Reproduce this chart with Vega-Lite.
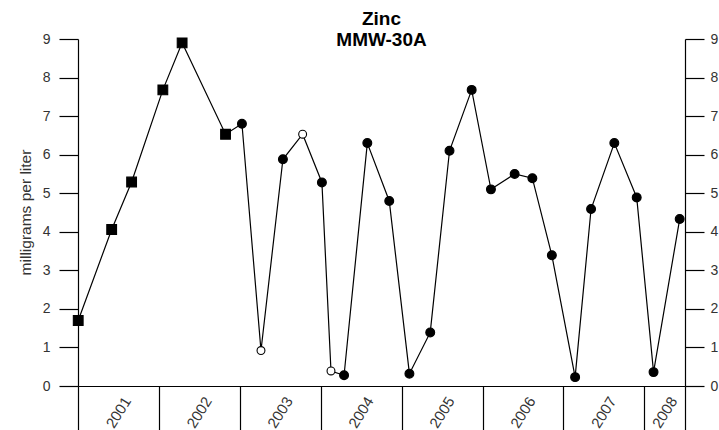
{
  "$schema": "https://vega.github.io/schema/vega-lite/v6.json",
  "width": 607,
  "height": 347,
  "autosize": {"type": "none"},
  "padding": {"left": 78, "top": 39, "right": 34, "bottom": 44},
  "background": "white",
  "config": {
    "view": {"stroke": null},
    "font": "Liberation Sans",
    "axis": {"grid": false, "domainColor": "black", "tickColor": "black", "labelColor": "#333333", "labelFont": "Liberation Sans", "titleFont": "Liberation Sans"}
  },
  "title": {
    "text": ["Zinc", "MMW-30A"],
    "font": "Liberation Sans",
    "fontSize": 19,
    "fontWeight": "bold",
    "color": "black",
    "anchor": "middle",
    "baseline": "bottom",
    "lineHeight": 21,
    "offset": -37
  },
  "data": {
    "values": [
      {"date": "2001-01-02", "zinc": 1.7, "type": "square"},
      {"date": "2001-06-02", "zinc": 4.06, "type": "square"},
      {"date": "2001-08-31", "zinc": 5.29, "type": "square"},
      {"date": "2002-01-19", "zinc": 7.68, "type": "square"},
      {"date": "2002-04-16", "zinc": 8.9, "type": "square"},
      {"date": "2002-10-29", "zinc": 6.53, "type": "square"},
      {"date": "2003-01-11", "zinc": 6.8, "type": "filled"},
      {"date": "2003-04-07", "zinc": 0.92, "type": "open"},
      {"date": "2003-07-15", "zinc": 5.88, "type": "filled"},
      {"date": "2003-10-12", "zinc": 6.53, "type": "open"},
      {"date": "2004-01-07", "zinc": 5.28, "type": "filled"},
      {"date": "2004-02-17", "zinc": 0.39, "type": "open"},
      {"date": "2004-04-16", "zinc": 0.28, "type": "filled"},
      {"date": "2004-07-30", "zinc": 6.3, "type": "filled"},
      {"date": "2004-11-06", "zinc": 4.8, "type": "filled"},
      {"date": "2005-02-05", "zinc": 0.32, "type": "filled"},
      {"date": "2005-05-10", "zinc": 1.39, "type": "filled"},
      {"date": "2005-08-05", "zinc": 6.1, "type": "filled"},
      {"date": "2005-11-13", "zinc": 7.68, "type": "filled"},
      {"date": "2006-02-08", "zinc": 5.1, "type": "filled"},
      {"date": "2006-05-26", "zinc": 5.5, "type": "filled"},
      {"date": "2006-08-14", "zinc": 5.39, "type": "filled"},
      {"date": "2006-11-10", "zinc": 3.39, "type": "filled"},
      {"date": "2007-02-23", "zinc": 0.23, "type": "filled"},
      {"date": "2007-05-06", "zinc": 4.59, "type": "filled"},
      {"date": "2007-08-19", "zinc": 6.3, "type": "filled"},
      {"date": "2007-11-28", "zinc": 4.89, "type": "filled"},
      {"date": "2008-02-12", "zinc": 0.36, "type": "filled"},
      {"date": "2008-06-09", "zinc": 4.33, "type": "filled"}
    ]
  },
  "encoding": {
    "x": {
      "field": "date",
      "type": "temporal",
      "scale": {
        "type": "utc",
        "nice": false,
        "domain": [
          {"year": 2001, "month": 1, "date": 1, "utc": true},
          {"year": 2008, "month": 7, "date": 3, "utc": true}
        ]
      },
      "axis": {
        "title": null,
        "values": [
          {"year": 2001, "month": 1, "date": 1, "utc": true},
          {"year": 2002, "month": 1, "date": 1, "utc": true},
          {"year": 2003, "month": 1, "date": 1, "utc": true},
          {"year": 2004, "month": 1, "date": 1, "utc": true},
          {"year": 2005, "month": 1, "date": 1, "utc": true},
          {"year": 2006, "month": 1, "date": 1, "utc": true},
          {"year": 2007, "month": 1, "date": 1, "utc": true},
          {"year": 2008, "month": 1, "date": 1, "utc": true},
          {"year": 2008, "month": 7, "date": 3, "utc": true}
        ],
        "labelExpr": "utcmonth(datum.value) > 0 ? '' : utcFormat(datum.value, '%Y')",
        "tickSize": 50,
        "tickWidth": 1.2,
        "domainWidth": 1.2,
        "labelPadding": -24,
        "labelAngle": -58,
        "labelAlign": "center",
        "labelBaseline": "middle",
        "labelFontSize": 15,
        "labelFlush": false,
        "labelOverlap": false,
        "labelBound": false,
        "labelOffset": {"condition": {"test": "utcyear(datum.value) == 2008", "value": 20}, "value": 40}
      }
    },
    "y": {
      "field": "zinc",
      "type": "quantitative",
      "scale": {"domain": [0, 9], "nice": false},
      "axis": {
        "orient": "left",
        "values": [0, 1, 2, 3, 4, 5, 6, 7, 8, 9],
        "title": "milligrams per liter",
        "titleFontSize": 15.5,
        "titleFontWeight": "normal",
        "titleColor": "#333333",
        "titleX": -53,
        "titleY": 173,
        "titleAlign": "center",
        "titleBaseline": "middle",
        "tickSize": 19,
        "tickWidth": 1.2,
        "domainWidth": 1.2,
        "labelPadding": 9,
        "labelFontSize": 14
      }
    }
  },
  "layer": [
    {
      "mark": {"type": "line", "color": "black", "strokeWidth": 1.2}
    },
    {
      "mark": {"type": "point", "stroke": "black", "strokeWidth": 1.1, "opacity": 1},
      "encoding": {
        "y": {
          "field": "zinc",
          "type": "quantitative",
          "axis": {
            "orient": "right",
            "values": [0, 1, 2, 3, 4, 5, 6, 7, 8, 9],
            "title": null,
            "tickSize": 19,
            "tickWidth": 1.2,
            "domainWidth": 1.2,
            "labelPadding": 6,
            "labelFontSize": 14
          }
        },
        "shape": {"field": "type", "type": "nominal", "legend": null, "scale": {"domain": ["square", "filled", "open"], "range": ["square", "circle", "circle"]}},
        "fill": {"field": "type", "type": "nominal", "legend": null, "scale": {"domain": ["square", "filled", "open"], "range": ["black", "black", "white"]}},
        "size": {"field": "type", "type": "nominal", "legend": null, "scale": {"domain": ["square", "filled", "open"], "range": [95, 62, 38]}}
      }
    }
  ],
  "resolve": {"axis": {"y": "independent"}}
}
